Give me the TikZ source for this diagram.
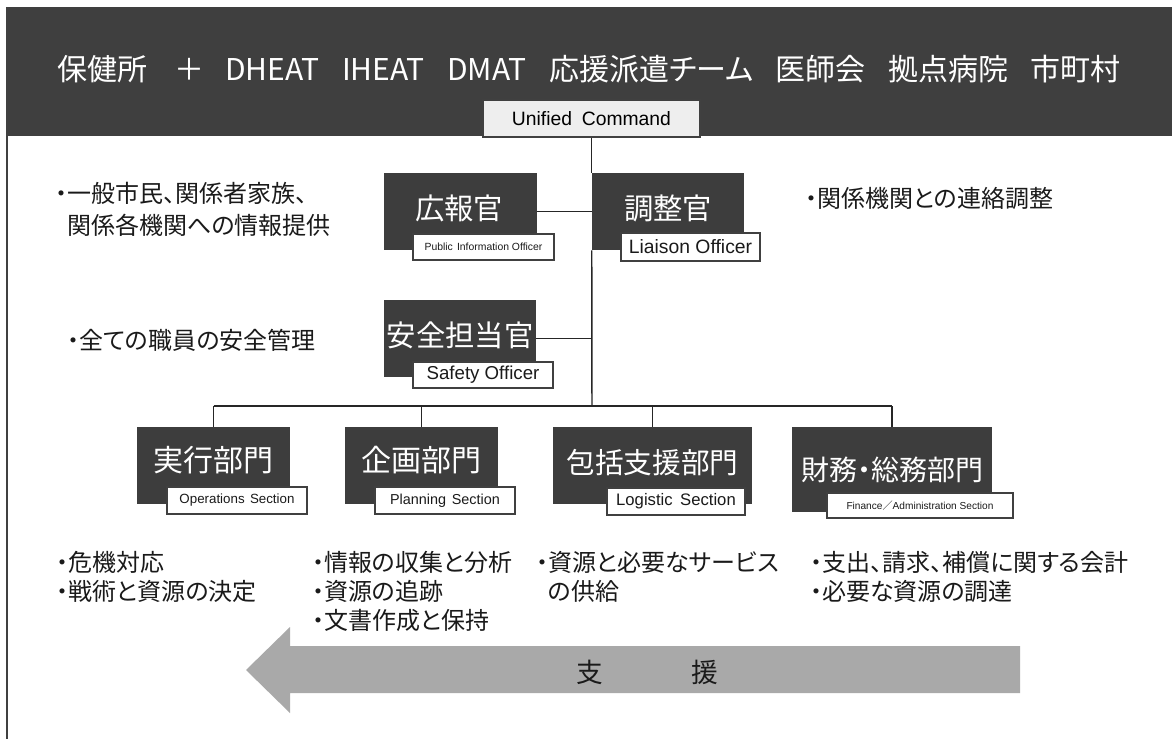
\documentclass[tikz,border=0pt]{standalone}
\usepackage{fontspec}
\setmainfont{Noto Sans CJK JP}[RawFeature=+palt]
\newfontfamily\lat{Liberation Sans}
\newfontfamily\jpn{Noto Sans CJK JP}
\definecolor{band}{HTML}{3F3F3F}
\definecolor{dkbox}{HTML}{3D3D3D}
\definecolor{bd}{HTML}{404040}
\definecolor{ucfill}{HTML}{EEEEEE}
\definecolor{arrowgray}{HTML}{A9A9A9}
\definecolor{txt}{HTML}{1A1A1A}
\tikzset{
  darkbox/.style={fill=dkbox, draw=none, inner sep=0pt},
  titletext/.style={text=white, inner sep=0pt, font=\fontsize{22}{24}\selectfont},
  lblbox/.style={fill=white, draw=bd, line width=0.8pt, inner sep=0pt, text=txt},
  conn/.style={draw=black!85, line width=1.1pt},
  bodytext/.style={anchor=base west, inner sep=0pt, align=left, text=txt,
    font=\fontsize{18}{21.4}\selectfont},
}
\begin{document}
\begin{tikzpicture}[x=0.75pt,y=-0.75pt]
\useasboundingbox (0,0) rectangle (1172,739);
\fill[white] (0,0) rectangle (1172,739);
% header band and frame
\fill[band] (7,7) rectangle (1172,136);
\draw[bd, line width=1.3pt] (7,7) -- (7,739);
\node[inner sep=0pt, text=white, font=\fontsize{22.5}{26}\selectfont] (head) at (589,69)
 {保健所\hspace{0.9em}＋\hspace{0.7em}DHEAT\hspace{0.75em}IHEAT\hspace{0.75em}DMAT\hspace{0.75em}応援派遣チーム\hspace{0.75em}医師会\hspace{0.75em}拠点病院\hspace{0.75em}市町村};
% unified command
\node[fill=ucfill, draw=bd, line width=0.9pt, inner sep=0pt, minimum width=217*0.75pt, minimum height=37*0.75pt,
  font=\lat\fontsize{14.5}{16}\selectfont] (uc) at (591.5,118.5) {Unified\hspace{0.5em}Command};
% command staff
\node[darkbox, minimum width=153*0.75pt, minimum height=77*0.75pt] (pio) at (460.5,211.5) {};
\node[titletext] (pioT) at (459,208) {広報官};
\node[lblbox, minimum width=141*0.75pt, minimum height=26*0.75pt, font=\lat\fontsize{7.8}{9}\selectfont] (pioL) at (483.5,247) {Public\hspace{0.4em}Information Officer};

\node[darkbox, minimum width=152*0.75pt, minimum height=77*0.75pt] (lo) at (668,211.5) {};
\node[titletext] (loT) at (668,208) {調整官};
\node[lblbox, minimum width=139*0.75pt, minimum height=28*0.75pt, font=\lat\fontsize{14.5}{16}\selectfont] (loL) at (690.5,247) {Liaison Officer};

\node[darkbox, minimum width=152*0.75pt, minimum height=77*0.75pt] (so) at (460,338.5) {};
\node[titletext] (soT) at (460,335) {安全担当官};
\node[lblbox, minimum width=140*0.75pt, minimum height=26*0.75pt, font=\lat\fontsize{14}{16}\selectfont] (soL) at (483,375) {Safety Officer};

% sections
\node[darkbox, minimum width=153*0.75pt, minimum height=77*0.75pt] (ops) at (213.5,465.5) {};
\node[titletext, font=\fontsize{22.5}{24}\selectfont] (opsT) at (213.5,460) {実行部門};
\node[lblbox, minimum width=140*0.75pt, minimum height=27*0.75pt, font=\lat\fontsize{10}{12}\selectfont] (opsL) at (237,500.5) {Operations\hspace{0.4em}Section};

\node[darkbox, minimum width=153*0.75pt, minimum height=77*0.75pt] (plan) at (421.5,465.5) {};
\node[titletext, font=\fontsize{22.5}{24}\selectfont] (planT) at (421.5,460) {企画部門};
\node[lblbox, minimum width=140*0.75pt, minimum height=27*0.75pt, font=\lat\fontsize{10.8}{12}\selectfont] (planL) at (445,500.5) {Planning\hspace{0.4em}Section};

\node[darkbox, minimum width=199*0.75pt, minimum height=77*0.75pt] (logi) at (652.5,465.5) {};
\node[titletext, font=\fontsize{21.5}{24}\selectfont] (logiT) at (652.5,463) {包括支援部門};
\node[lblbox, minimum width=138*0.75pt, minimum height=27*0.75pt, font=\lat\fontsize{12.5}{14}\selectfont] (logiL) at (676,501.5) {Logistic\hspace{0.45em}Section};

\node[darkbox, minimum width=200*0.75pt, minimum height=85*0.75pt] (fin) at (892,469.5) {};
\node[titletext, font=\fontsize{21}{24}\selectfont] (finT) at (892,470) {財務・総務部門};
\node[lblbox, minimum width=186*0.75pt, minimum height=25*0.75pt, font=\lat\fontsize{7.6}{9}\selectfont] (finL) at (920,505.5) {Finance{\jpn ／}Administration Section};

% connectors
\coordinate (bus) at (592,406);
\draw[conn] (uc.south) -- (uc.south |- lo.north);
\draw[conn] (pio.east) -- (lo.west);
\draw[conn] (so.east) -- (so.east -| lo.west);
\draw[conn] (lo.south west) -- (bus);
\draw[conn] (ops.north |- bus) -- (fin.north |- bus);
\draw[conn] (ops.north |- bus) -- (ops.north);
\draw[conn] (plan.north |- bus) -- (plan.north);
\draw[conn] (logi.north |- bus) -- (logi.north);
\draw[conn] (fin.north |- bus) -- (fin.north);

% descriptions (base anchor = baseline of the last line)
\node[bodytext, font=\fontsize{18}{24}\selectfont] (d1) at (55,234) {・一般市民、関係者家族、\\\phantom{・}関係各機関への情報提供};
\node[bodytext] (d2) at (805,207) {・関係機関との連絡調整};
\node[bodytext] (d3) at (67,349) {・全ての職員の安全管理};
\node[bodytext] (d4) at (56,600.5) {・危機対応\\・戦術と資源の決定};
\node[bodytext] (d5) at (312,629) {・情報の収集と分析\\・資源の追跡\\・文書作成と保持};
\node[bodytext] (d6) at (536,600.5) {・資源と必要なサービス\\\phantom{・}の供給};
\node[bodytext] (d7) at (810,600.5) {・支出、請求、補償に関する会計\\・必要な資源の調達};

% support arrow
\fill[arrowgray] (246,670) -- (290,627) -- (290,646) -- (1020,646) -- (1020,693) -- (290,693) -- (290,713) -- cycle;
\node[inner sep=0pt, text=txt, font=\fontsize{20}{22}\selectfont] (s1) at (590,672) {支};
\node[inner sep=0pt, text=txt, font=\fontsize{20}{22}\selectfont] (s2) at (705,672) {援};
\end{tikzpicture}
\end{document}
